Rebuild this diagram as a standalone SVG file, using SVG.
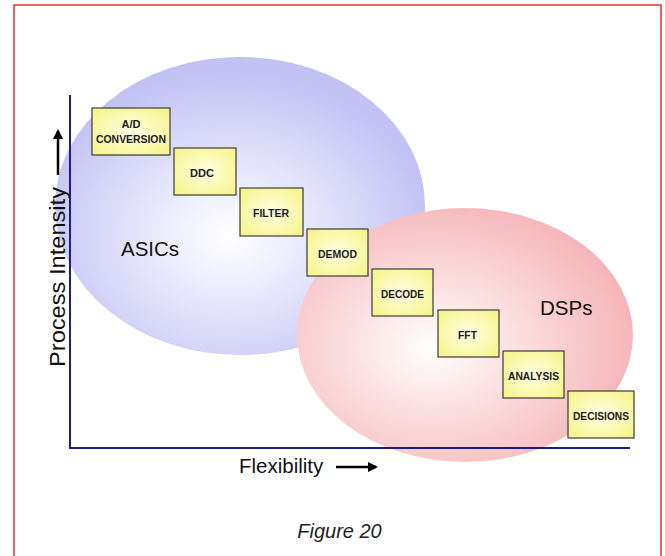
<svg xmlns="http://www.w3.org/2000/svg" width="665" height="556" viewBox="0 0 665 556">
<defs>
<radialGradient id="gBlue" cx="0.47" cy="0.6" r="0.55">
<stop offset="0" stop-color="#ffffff"/>
<stop offset="0.3" stop-color="#eeeefd"/>
<stop offset="1" stop-color="#c2c2f4"/>
</radialGradient>
<radialGradient id="gPink" cx="0.4" cy="0.55" r="0.6">
<stop offset="0" stop-color="#ffffff"/>
<stop offset="0.3" stop-color="#fde8e8"/>
<stop offset="1" stop-color="#f5b6ba"/>
</radialGradient>
<radialGradient id="gBox" cx="0.5" cy="0.5" r="0.6">
<stop offset="0" stop-color="#ffffe6"/>
<stop offset="1" stop-color="#f7f590"/>
</radialGradient>
<marker id="ah" viewBox="0 0 10 10" refX="8" refY="5" markerWidth="4" markerHeight="4" orient="auto">
<path d="M0,0 L10,5 L0,10 z" fill="#000"/>
</marker>
<style>
.box{fill:url(#gBox);stroke:#3a3a3a;stroke-width:1.2}
.bt{font-family:"Liberation Sans",Arial,sans-serif;font-weight:bold;font-size:11.5px;fill:#1a1a1a;text-anchor:middle}
.big{font-family:"Liberation Sans",Arial,sans-serif;font-size:20.5px;fill:#111}
.axis{stroke:#1c1c8a;stroke-width:2;fill:none}
</style>
</defs>
<rect x="14" y="5" width="647" height="560" fill="#fff" stroke="#e83030" stroke-width="1.5"/>
<ellipse cx="240" cy="206" rx="185" ry="149" fill="url(#gBlue)"/>
<ellipse cx="465" cy="335" rx="168" ry="127" fill="url(#gPink)"/>
<g id="axes">
<line class="axis" x1="70" y1="95" x2="70" y2="449"/>
<line class="axis" x1="69" y1="448" x2="630" y2="448"/>
</g>
<g id="connectors">
<line x1="58" y1="175" x2="58" y2="131" stroke="#000" stroke-width="2.5" marker-end="url(#ah)"/>
<line x1="336" y1="467" x2="376" y2="467" stroke="#000" stroke-width="2.5" marker-end="url(#ah)"/>
</g>
<text class="big" transform="translate(65,367) rotate(-90)" textLength="180" lengthAdjust="spacingAndGlyphs" style="font-size:22px">Process Intensity</text>
<text class="big" x="239" y="473">Flexibility</text>
<text class="big" x="121" y="256">ASICs</text>
<text class="big" x="540" y="315">DSPs</text>
<g id="n1"><rect class="box" x="92" y="108" width="78" height="47"/><text class="bt" x="131" y="128" textLength="19" lengthAdjust="spacingAndGlyphs">A/D</text><text class="bt" x="131" y="143" textLength="70" lengthAdjust="spacingAndGlyphs">CONVERSION</text></g>
<g id="n2"><rect class="box" x="174" y="148" width="62" height="47"/><text class="bt" x="202" y="177" textLength="24" lengthAdjust="spacingAndGlyphs">DDC</text></g>
<g id="n3"><rect class="box" x="240" y="188" width="63" height="48"/><text class="bt" x="271" y="216.5" textLength="36" lengthAdjust="spacingAndGlyphs">FILTER</text></g>
<g id="n4"><rect class="box" x="307" y="229" width="61" height="47"/><text class="bt" x="337.5" y="257.5" textLength="39" lengthAdjust="spacingAndGlyphs">DEMOD</text></g>
<g id="n5"><rect class="box" x="372" y="269" width="61" height="47"/><text class="bt" x="402.5" y="297.5" textLength="43" lengthAdjust="spacingAndGlyphs">DECODE</text></g>
<g id="n6"><rect class="box" x="438" y="310" width="61" height="47"/><text class="bt" x="467.5" y="338.5" textLength="19" lengthAdjust="spacingAndGlyphs">FFT</text></g>
<g id="n7"><rect class="box" x="503" y="351" width="61" height="47"/><text class="bt" x="533.5" y="379.5" textLength="51" lengthAdjust="spacingAndGlyphs">ANALYSIS</text></g>
<g id="n8"><rect class="box" x="568" y="391" width="66" height="47"/><text class="bt" x="601" y="419.5" textLength="56" lengthAdjust="spacingAndGlyphs">DECISIONS</text></g>
<text x="339.5" y="538" font-family="Liberation Sans,Arial,sans-serif" font-style="italic" font-size="20" fill="#222" text-anchor="middle">Figure 20</text>
</svg>
